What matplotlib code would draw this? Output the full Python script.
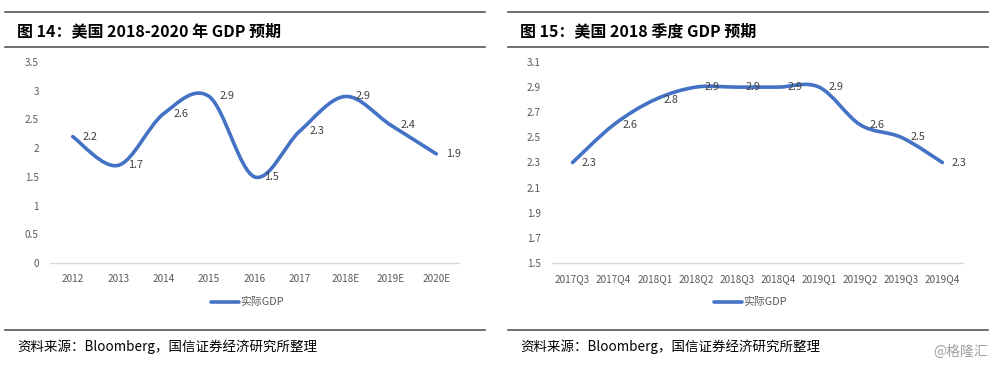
import matplotlib
matplotlib.use("Agg")
import matplotlib.pyplot as plt
from matplotlib.path import Path
from matplotlib.patches import PathPatch
from matplotlib.lines import Line2D
import numpy as np

plt.rcParams['font.family'] = ['Noto Sans CJK SC', 'DejaVu Sans']

years = ['2012', '2013', '2014', '2015', '2016', '2017', '2018E', '2019E', '2020E']
gdp_year = [2.2, 1.7, 2.6, 2.9, 1.5, 2.3, 2.9, 2.4, 1.9]

quarters = ['2017Q3', '2017Q4', '2018Q1', '2018Q2', '2018Q3', '2018Q4',
            '2019Q1', '2019Q2', '2019Q3', '2019Q4']
gdp_q = [2.3, 2.6, 2.8, 2.9, 2.9, 2.9, 2.9, 2.6, 2.5, 2.3]

BLUE = '#4472C4'
W, H = 1000, 365


def smooth_path(xs, ys):
    # Excel-style smoothed line: Catmull-Rom converted to cubic Bezier
    pts = np.column_stack([xs, ys]).astype(float)
    verts = [pts[0]]
    codes = [Path.MOVETO]
    n = len(pts)
    for i in range(n - 1):
        p0 = pts[i - 1] if i > 0 else pts[i]
        p1, p2 = pts[i], pts[i + 1]
        p3 = pts[i + 2] if i + 2 < n else pts[i + 1]
        c1 = p1 + (p2 - p0) / 6.0
        c2 = p2 - (p3 - p1) / 6.0
        verts += [c1, c2, p2]
        codes += [Path.CURVE4] * 3
    return Path(verts, codes)


def fx(px):
    return px / W


def fy(py):
    return 1 - py / H


fig = plt.figure(figsize=(10, 3.65), dpi=100)


def panel(x0, title, cats, vals, ymin, ymax, step, ax_l, ax_r, fmt):
    # frame lines and texts
    for y in (12, 47, 330):
        fig.add_artist(Line2D([fx(x0), fx(x0 + 480)], [fy(y), fy(y)],
                              color='#555555', lw=1.2))
    fig.text(fx(x0 + 12), fy(31), title, fontsize=11.5, fontweight='bold',
             va='center', ha='left', color='black')
    fig.text(fx(x0 + 12), fy(347), '资料来源：Bloomberg，国信证券经济研究所整理',
             fontsize=9.7, va='center', ha='left', color='black')

    ax = fig.add_axes([fx(ax_l), fy(263), fx(ax_r - ax_l), fy(62) - fy(263)])
    x = np.arange(len(cats))
    ax.add_patch(PathPatch(smooth_path(x, vals), fill=False, edgecolor=BLUE,
                           lw=2.6, capstyle='round', joinstyle='round'))
    for xi, v in zip(x, vals):
        ax.text(xi + 0.22, v, f'{v:.1f}', fontsize=7.8, color='#404040',
                va='center', ha='left')
    ax.set_xlim(-0.5, len(cats) - 0.5)
    ax.set_ylim(ymin, ymax)
    ax.set_yticks(np.arange(ymin, ymax + step / 2, step))
    ax.set_yticklabels([fmt(t) for t in np.arange(ymin, ymax + step / 2, step)])
    ax.set_xticks(x)
    ax.set_xticklabels(cats)
    for s in ('top', 'right', 'left'):
        ax.spines[s].set_visible(False)
    ax.spines['bottom'].set_color('#D9D9D9')
    ax.spines['bottom'].set_linewidth(1.0)
    ax.tick_params(axis='both', length=0, labelsize=7.2, labelcolor='#595959')
    ax.tick_params(axis='y', pad=8)
    ax.tick_params(axis='x', pad=8)
    ax.patch.set_visible(False)

    # legend
    lc = (ax_l + ax_r) / 2
    fig.add_artist(Line2D([fx(lc - 44), fx(lc - 16)], [fy(302), fy(302)],
                          color=BLUE, lw=2.6, solid_capstyle='round'))
    fig.text(fx(lc - 14), fy(302), '实际GDP', fontsize=7.8, color='#595959',
             va='center', ha='left')
    return ax


def fmt1(t):
    s = f'{t:.1f}'
    return s[:-2] if s.endswith('.0') else s


panel(5, '图 14：美国 2018-2020 年 GDP 预期', years, gdp_year,
      0, 3.5, 0.5, 50, 459, fmt1)
panel(508, '图 15：美国 2018 季度 GDP 预期', quarters, gdp_q,
      1.5, 3.1, 0.2, 552, 963, lambda t: f'{t:.1f}')

fig.text(fx(988), fy(352), '@格隆汇', fontsize=10, color='#A0A0A0',
         va='center', ha='right')

fig.savefig('out.png', dpi=100)
